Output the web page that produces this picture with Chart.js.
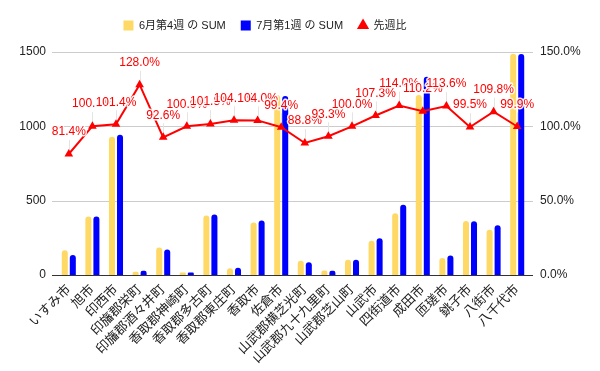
<!DOCTYPE html>
<html>
<head>
<meta charset="utf-8">
<script src="https://cdn.jsdelivr.net/npm/chart.js@4"></script>
<style>
	html, body { margin: 0; padding: 0; background: #fff; }
	#wrap { width: 600px; height: 371px; }
</style>
</head>
<body>
<div id="wrap"><canvas id="chart"></canvas></div>
<script>
const cities = [
	'いすみ市', '旭市', '印西市', '印旛郡栄町', '印旛郡酒々井町',
	'香取郡神崎町', '香取郡多古町', '香取郡東庄町', '香取市', '佐倉市',
	'山武郡横芝光町', '山武郡九十九里町', '山武郡芝山町', '山武市', '四街道市',
	'成田市', '匝瑳市', '銚子市', '八街市', '八千代市',
];
const juneWeek4 = [166, 394, 930, 22, 185, 16, 401, 46, 353, 1211, 96, 30, 103, 230, 415, 1210, 115, 363, 305, 1488];
const julyWeek1 = [135, 394, 943, 28, 171, 16, 407, 48, 367, 1204, 85, 28, 103, 247, 473, 1333, 131, 361, 335, 1487];
const weekRatio = [0.814, 1.001, 1.014, 1.28, 0.926, 1.0, 1.015, 1.041, 1.04, 0.994, 0.888, 0.933, 1.0, 1.073, 1.14, 1.102, 1.136, 0.995, 1.098, 0.999];
const leftTicks = [0, 500, 1000, 1500];
const rightTicks = [0, 0.5, 1.0, 1.5];

const fontFamily = '"Liberation Sans", Arial, "Noto Sans CJK JP", sans-serif';
const textColor = '#222222';
const pct = (v) => (v * 100).toFixed(1) + '%';

// extra room under the legend, and legend sits a little left of centre
const legendTweak = {
	id: 'legendTweak',
	beforeInit(chart) {
		const legend = chart.legend;
		const fit = legend.fit;
		legend.fit = function () {
			fit.bind(legend)();
			this.height += 11;
		};
		const draw = legend.draw;
		legend.draw = function () {
			const ctx = chart.ctx;
			ctx.save();
			ctx.translate(-35, 0);
			draw.bind(legend)();
			ctx.restore();
		};
	},
};

// gridlines span a bit wider than the category area, like the original
const gridPlugin = {
	id: 'wideGrid',
	beforeDatasetsDraw(chart) {
		const { ctx, chartArea, scales } = chart;
		ctx.save();
		leftTicks.forEach((t) => {
			const y = Math.round(scales.y.getPixelForValue(t)) + 0.5;
			ctx.strokeStyle = t === 0 ? '#333333' : '#cccccc';
			ctx.lineWidth = 1;
			ctx.beginPath();
			ctx.moveTo(chartArea.left - 5, y);
			ctx.lineTo(chartArea.right + 4, y);
			ctx.stroke();
		});
		// leader lines for the ratio labels
		const meta = chart.getDatasetMeta(2);
		ctx.strokeStyle = '#e4e4e4';
		meta.data.forEach((pt) => {
			ctx.beginPath();
			ctx.moveTo(Math.round(pt.x) + 0.5, pt.y);
			ctx.lineTo(Math.round(pt.x) + 0.5, pt.y - 14);
			ctx.stroke();
		});
		ctx.restore();
	},
	afterDatasetsDraw(chart) {
		const { ctx } = chart;
		const meta = chart.getDatasetMeta(2);
		ctx.save();
		ctx.font = '12px ' + fontFamily;
		ctx.textAlign = 'center';
		ctx.textBaseline = 'middle';
		ctx.lineJoin = 'round';
		meta.data.forEach((pt, i) => {
			const label = pct(weekRatio[i]);
			ctx.strokeStyle = 'rgba(255,255,255,0.9)';
			ctx.lineWidth = 3;
			ctx.strokeText(label, pt.x, pt.y - 22);
			ctx.fillStyle = '#ff0000';
			ctx.fillText(label, pt.x, pt.y - 22);
		});
		ctx.restore();
	},
};

new Chart(document.getElementById('chart'), {
	type: 'bar',
	data: {
		labels: cities,
		datasets: [
			{
				label: '6月第4週 の SUM',
				data: juneWeek4,
				backgroundColor: '#ffd966',
				categoryPercentage: 0.68,
				barPercentage: 0.75,
				borderRadius: { topLeft: 3, topRight: 3 },
				borderSkipped: 'bottom',
				yAxisID: 'y',
				order: 1,
			},
			{
				label: '7月第1週 の SUM',
				data: julyWeek1,
				backgroundColor: '#0000ff',
				categoryPercentage: 0.68,
				barPercentage: 0.75,
				borderRadius: { topLeft: 3, topRight: 3 },
				borderSkipped: 'bottom',
				yAxisID: 'y',
				order: 1,
			},
			{
				type: 'line',
				label: '先週比',
				data: weekRatio,
				borderColor: '#ff0000',
				backgroundColor: '#ff0000',
				borderWidth: 2,
				pointStyle: 'triangle',
				pointRadius: 3,
				tension: 0,
				yAxisID: 'y1',
				order: 0,
			},
		],
	},
	options: {
		responsive: true,
		maintainAspectRatio: false,
		animation: false,
		layout: {
			padding: { top: 5, bottom: 0 },
		},
		plugins: {
			legend: {
				display: true,
				position: 'top',
				labels: {
					usePointStyle: true,
					boxWidth: 10,
					boxHeight: 10,
					padding: 15,
					color: textColor,
					font: { family: fontFamily, size: 11 },
					sort: (a, b) => a.datasetIndex - b.datasetIndex,
					generateLabels(chart) {
						return chart.data.datasets.map((ds, i) => ({
							text: ds.label,
							fillStyle: ds.backgroundColor,
							strokeStyle: ds.backgroundColor,
							lineWidth: 0,
							pointStyle: i === 2 ? 'triangle' : 'rect',
							datasetIndex: i,
							fontColor: textColor,
						}));
					},
				},
			},
			tooltip: { enabled: false },
		},
		scales: {
			x: {
				afterFit: (scale) => {
					scale.height = 96;
				},
				grid: { display: false, drawTicks: false },
				border: { display: false },
				ticks: {
					minRotation: 45,
					maxRotation: 45,
					autoSkip: false,
					padding: 7,
					color: textColor,
					font: { family: fontFamily, size: 13 },
				},
			},
			y: {
				position: 'left',
				min: 0,
				max: 1500,
				afterBuildTicks: (scale) => {
					scale.ticks = leftTicks.map((v) => ({ value: v }));
				},
				afterFit: (scale) => {
					scale.width = 57;
				},
				grid: { display: false, drawTicks: false },
				border: { display: false },
				ticks: {
					padding: 11,
					color: textColor,
					font: { family: fontFamily, size: 12 },
					callback: (v) => String(v),
				},
			},
			y1: {
				position: 'right',
				min: 0,
				max: 1.5,
				afterBuildTicks: (scale) => {
					scale.ticks = rightTicks.map((v) => ({ value: v }));
				},
				afterFit: (scale) => {
					scale.width = 71;
				},
				grid: { display: false, drawTicks: false },
				border: { display: false },
				ticks: {
					padding: 11,
					color: textColor,
					font: { family: fontFamily, size: 12 },
					callback: (v) => pct(v),
				},
			},
		},
	},
	plugins: [legendTweak, gridPlugin],
});
</script>
</body>
</html>
